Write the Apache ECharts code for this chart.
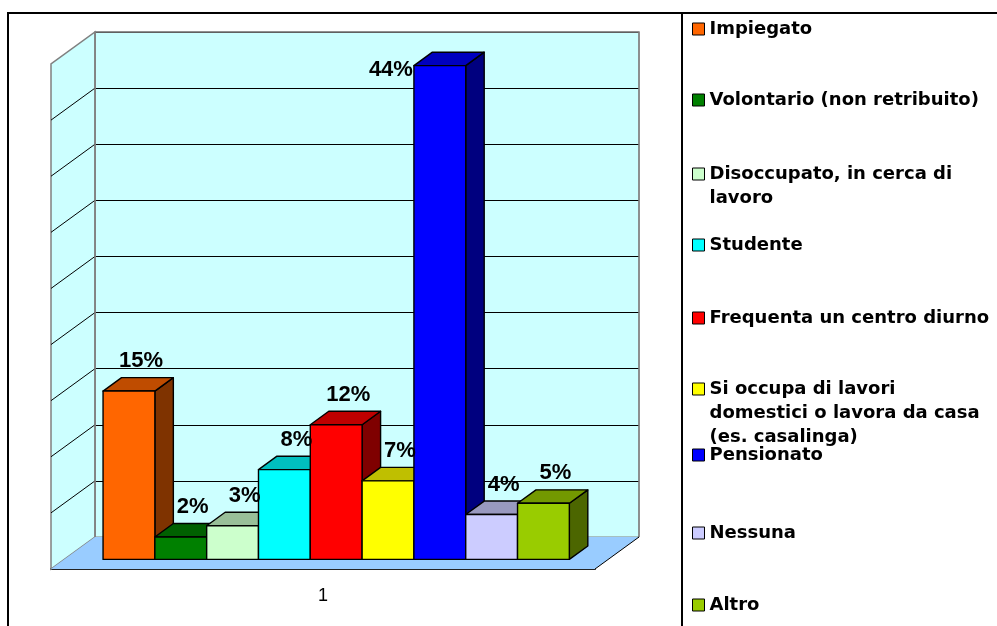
<!DOCTYPE html>
<html>
<head>
<meta charset="utf-8">
<script src="https://cdn.jsdelivr.net/npm/echarts@6/dist/echarts.min.js"></script>
<style>
html, body { margin: 0; padding: 0; background: #fff; }
#main { width: 997px; height: 626px; }
</style>
</head>
<body>
<div id="main"></div>
<script>
// categories (one series each) and their share in percent
var categories = [
    'Impiegato',
    'Volontario (non retribuito)',
    'Disoccupato, in cerca di lavoro',
    'Studente',
    'Frequenta un centro diurno',
    'Si occupa di lavori domestici o lavora da casa (es. casalinga)',
    'Pensionato',
    'Nessuna',
    'Altro'
];
var legendText = [
    'Impiegato',
    'Volontario (non retribuito)',
    'Disoccupato, in cerca di\nlavoro',
    'Studente',
    'Frequenta un centro diurno',
    'Si occupa di lavori\ndomestici o lavora da casa\n(es. casalinga)',
    'Pensionato',
    'Nessuna',
    'Altro'
];
var values = [15, 2, 3, 8, 12, 7, 44, 4, 5];
var axisLabels = ['1'];
var yMax = 45;
var yStep = 5;

// face colours: front, top, side
var frontColors = ['#FF6600', '#008000', '#CCFFCC', '#00FFFF', '#FF0000', '#FFFF00', '#0000FF', '#CCCCFF', '#99CC00'];
var topColors = ['#BF4C00', '#006000', '#99BF99', '#00BFBF', '#BF0000', '#BFBF00', '#0000BF', '#9999BF', '#739900'];
var sideColors = ['#7F3300', '#004000', '#667F66', '#007F7F', '#7F0000', '#7F7F00', '#00007F', '#66667F', '#4C6600'];

// vertical centre of each legend entry's first line
var legendTops = [29, 100, 174, 245, 318, 389, 455, 533, 605];
var legendLineHeight = 24;

// oblique 3d: vector from front of floor to the back wall
var depthX = 44, depthY = 32;
var barFront = 0.30, barBack = 0.72;

function shift(p, d) {
    return [p[0] - (1 - d) * depthX, p[1] + (1 - d) * depthY];
}

function barBox(i, api) {
    var n = values.length;
    var band = api.size([1, 0])[0];
    var w = band / (n + 1.5);
    var base = api.coord([api.value(0), 0]);
    var top = api.coord([api.value(0), api.value(1)]);
    var x0 = base[0] - n * w / 2 + i * w;
    return { x0: x0, x1: x0 + w, yb: base[1], yt: top[1] };
}

function renderWalls(params, api) {
    var band = api.size([1, 0])[0];
    var c = api.coord([0, 0]);
    var L = c[0] - band / 2, R = c[0] + band / 2, yb = c[1];
    var yt = api.coord([0, yMax])[1];
    var children = [];
    children.push({
        type: 'polygon',
        shape: { points: [[L, yt], [L, yb], shift([L, yb], 0), shift([L, yt], 0)] },
        style: { fill: '#CCFFFF', stroke: '#808080', lineWidth: 1.5 }
    });
    children.push({
        type: 'polygon',
        shape: { points: [[L, yb], [R, yb], shift([R, yb], 0), shift([L, yb], 0)] },
        style: { fill: '#99CCFF' }
    });
    for (var v = yStep; v < yMax; v += yStep) {
        var y = api.coord([0, v])[1];
        var p = shift([L, y], 0);
        children.push({
            type: 'line',
            shape: { x1: L, y1: y, x2: p[0], y2: p[1] },
            style: { stroke: '#000', lineWidth: 1 }
        });
    }
    children.push({
        type: 'polyline',
        shape: { points: [[L, yb], [L, yt], [R, yt], [R, yb]] },
        style: { stroke: '#808080', lineWidth: 1.5, fill: null }
    });
    var q = shift([R, yb], 0);
    children.push({
        type: 'line',
        shape: { x1: R, y1: yb, x2: q[0], y2: q[1] },
        style: { stroke: '#000', lineWidth: 1 }
    });
    return { type: 'group', children: children };
}

function makeBarRenderer(i) {
    return function (params, api) {
        var b = barBox(i, api);
        var fbl = shift([b.x0, b.yb], barFront), fbr = shift([b.x1, b.yb], barFront);
        var ftl = shift([b.x0, b.yt], barFront), ftr = shift([b.x1, b.yt], barFront);
        var btl = shift([b.x0, b.yt], barBack), btr = shift([b.x1, b.yt], barBack);
        var bbr = shift([b.x1, b.yb], barBack);
        var edge = { stroke: '#000', lineWidth: 1.4, lineJoin: 'round' };
        return {
            type: 'group',
            children: [
                { type: 'polygon', shape: { points: [fbr, bbr, btr, ftr] }, style: Object.assign({ fill: sideColors[i] }, edge) },
                { type: 'polygon', shape: { points: [ftl, ftr, btr, btl] }, style: Object.assign({ fill: topColors[i] }, edge) },
                { type: 'polygon', shape: { points: [fbl, fbr, ftr, ftl] }, style: Object.assign({ fill: frontColors[i] }, edge) }
            ]
        };
    };
}

function renderLabel(params, api) {
    var b = barBox(params.dataIndex, api);
    var ft = shift([(b.x0 + b.x1) / 2, b.yt], barFront);
    var ftl = shift([b.x0, b.yt], barFront);
    var wallTop = api.coord([0, yMax])[1];
    var above = ft[1] - 42 >= wallTop;
    return {
        type: 'text',
        x: above ? ft[0] + 12 : ftl[0] - 1,
        y: above ? ft[1] - 30 : ftl[1] + 4,
        style: {
            text: api.value(1) + '%',
            fill: '#000',
            fontFamily: 'Liberation Sans',
            fontWeight: 'bold',
            fontSize: 22,
            align: above ? 'center' : 'right',
            verticalAlign: 'middle'
        }
    };
}

var series = [{
    type: 'custom',
    xAxisIndex: 0,
    yAxisIndex: 0,
    z: 1,
    clip: false,
    silent: true,
    renderItem: renderWalls,
    data: [[0, yMax]]
}];
categories.forEach(function (name, i) {
    series.push({
        name: name,
        type: 'custom',
        xAxisIndex: 0,
        yAxisIndex: 0,
        z: 3,
        clip: false,
        silent: true,
        itemStyle: { color: frontColors[i], borderColor: '#000', borderWidth: 1 },
        renderItem: makeBarRenderer(i),
        data: [[0, values[i]]]
    });
});
series.push({
    type: 'custom',
    xAxisIndex: 0,
    yAxisIndex: 0,
    z: 5,
    clip: false,
    silent: true,
    renderItem: renderLabel,
    data: values.map(function (v) { return [0, v]; })
});

// legend text is centred on its icon, so pad multi-line entries with
// blank lines on top to keep the first line level with the square
var legends = categories.map(function (name, i) {
    var lines = legendText[i].split('\n').length;
    var pad = new Array(lines).join('\n');
    return {
        data: [name],
        left: 692,
        top: legendTops[i] - (2 * lines - 1) * legendLineHeight / 2,
        padding: 0,
        icon: 'rect',
        itemWidth: 12,
        itemHeight: 12,
        selectedMode: false,
        itemStyle: { borderColor: '#000', borderWidth: 1 },
        formatter: function () { return pad + legendText[i]; },
        textStyle: {
            fontFamily: 'DejaVu Sans',
            fontWeight: 'bold',
            fontSize: 18,
            lineHeight: legendLineHeight,
            color: '#000'
        }
    };
});

var myChart = echarts.init(document.getElementById('main'));
var option = {
    animation: false,
    backgroundColor: '#fff',
    graphic: [
        { type: 'rect', shape: { x: 8, y: 13, width: 674, height: 640 }, style: { fill: null, stroke: '#000', lineWidth: 2 } },
        { type: 'line', shape: { x1: 682, y1: 13, x2: 1000, y2: 13 }, style: { stroke: '#000', lineWidth: 2 } }
    ],
    grid: [
        { left: 95, top: 32, width: 544, height: 505, show: true, backgroundColor: '#CCFFFF', borderColor: '#808080', borderWidth: 1 },
        { left: 51, top: 64, width: 544, height: 505 }
    ],
    xAxis: [
        { type: 'category', gridIndex: 0, data: axisLabels, show: false },
        {
            type: 'category',
            gridIndex: 1,
            data: axisLabels,
            axisLine: { lineStyle: { color: '#222', width: 2 } },
            axisTick: { length: 8, lineStyle: { color: '#000', width: 1 } },
            axisLabel: { fontFamily: 'Liberation Sans', fontSize: 18, color: '#000', margin: 18 },
            splitLine: { show: false }
        }
    ],
    yAxis: [
        {
            type: 'value',
            gridIndex: 0,
            min: 0,
            max: yMax,
            interval: yStep,
            axisLine: { show: false },
            axisTick: { show: false },
            axisLabel: { show: false },
            splitLine: { lineStyle: { color: '#000', width: 1 } }
        },
        { type: 'value', gridIndex: 1, min: 0, max: yMax, interval: yStep, show: false, splitLine: { show: false } }
    ],
    legend: legends,
    series: series
};
myChart.setOption(option);
</script>
</body>
</html>
